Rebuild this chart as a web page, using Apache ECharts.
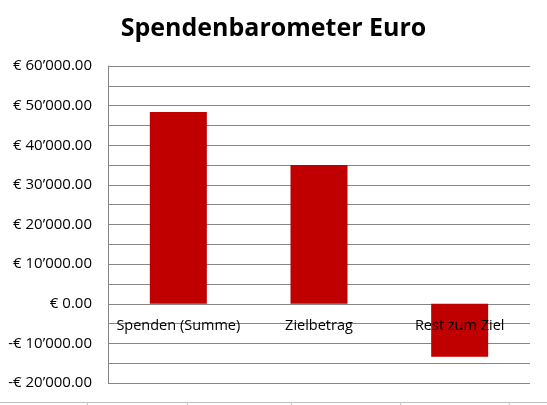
<!DOCTYPE html>
<html>
<head>
<meta charset="utf-8">
<script src="https://cdn.jsdelivr.net/npm/echarts@6/dist/echarts.min.js"></script>
<style>html,body{margin:0;padding:0;background:#fff;}#c{width:547px;height:405px;}</style>
</head>
<body>
<div id="c"></div>
<script>
const categories = ['Spenden (Summe)', 'Zielbetrag', 'Rest zum Ziel'];
const values = [48400, 35000, -13400];
const labelBase = [0, 0, 0];
const yMin = -20000, yMax = 60000, yStep = 10000;

function fmt(v) {
  const a = Math.abs(v);
  const s = a.toFixed(2).split('.');
  const intPart = s[0].replace(/\B(?=(\d{3})+(?!\d))/g, '\u2019');
  return (v < 0 ? '-' : '') + '\u20AC ' + intPart + '.' + s[1];
}

const cellBorders = [87, 187, 291, 400, 509].map(function (x) {
  return {
    type: 'line',
    shape: {x1: x + 0.5, y1: 402, x2: x + 0.5, y2: 405},
    style: {stroke: '#c8c8c8', lineWidth: 1},
    silent: true
  };
});

const chart = echarts.init(document.getElementById('c'), null, {renderer: 'canvas'});
chart.setOption({
  animation: false,
  backgroundColor: '#ffffff',
  title: {
    text: 'Spendenbarometer Euro',
    left: 'center',
    top: 11,
    textStyle: {fontFamily: 'Open Sans', fontWeight: 'bold', fontSize: 25, color: '#000'}
  },
  grid: {left: 108, right: 17, top: 66, bottom: 22, containLabel: false, outerBoundsMode: 'none'},
  xAxis: {
    type: 'category',
    data: categories,
    axisLine: {show: false},
    axisTick: {show: false},
    axisLabel: {show: false},
    splitLine: {show: false}
  },
  yAxis: {
    type: 'value',
    min: yMin, max: yMax, interval: yStep,
    axisLine: {show: true, lineStyle: {color: '#868686', width: 1}},
    axisTick: {show: false},
    minorTick: {show: false, splitNumber: 2},
    minorSplitLine: {show: true, lineStyle: {color: '#868686', width: 1}},
    splitLine: {show: true, lineStyle: {color: '#868686', width: 1}},
    axisLabel: {color: '#000', fontFamily: 'Open Sans', fontSize: 15, margin: 16, formatter: fmt}
  },
  series: [{
    type: 'bar',
    data: values,
    barWidth: 57,
    barGap: '-100%',
    itemStyle: {color: '#C00000'},
    z: 2
  }, {
    type: 'bar',
    data: labelBase,
    barWidth: 57,
    barGap: '-100%',
    itemStyle: {color: 'transparent'},
    silent: true,
    z: 5,
    label: {
      show: true,
      position: 'bottom',
      distance: 15,
      formatter: '{b}',
      color: '#000',
      fontFamily: 'Open Sans',
      fontSize: 14.5
    }
  }],
  graphic: [{
    type: 'line',
    shape: {x1: 0, y1: 402.5, x2: 547, y2: 402.5},
    style: {stroke: '#bdbdbd', lineWidth: 1},
    silent: true
  }].concat(cellBorders)
});
</script>
</body>
</html>
